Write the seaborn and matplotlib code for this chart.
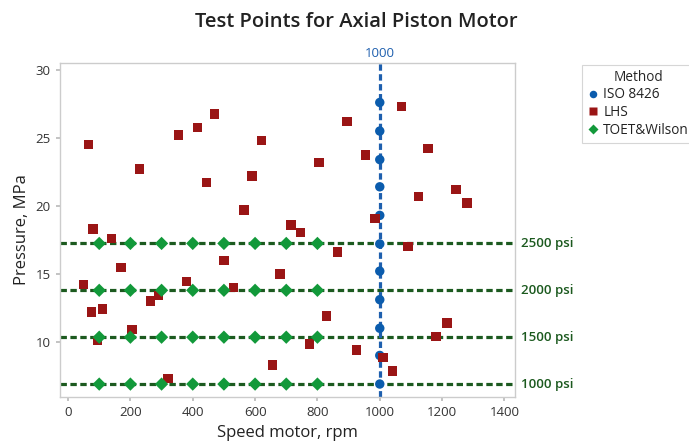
import numpy as np
import pandas as pd
import matplotlib
matplotlib.use("Agg")
import matplotlib.pyplot as plt
import matplotlib.transforms as mtransforms
import seaborn as sns

# ISO 8426 test points: fixed speed, pressure steps
iso_speed = [1000] * 11
iso_pressure = [6.9, 9.0, 11.0, 13.1, 15.2, 17.2, 19.3, 21.4, 23.4, 25.5, 27.6]

# Latin hypercube sampling points
lhs_speed = [65, 230, 355, 415, 470, 445, 620, 895, 590, 805, 955, 565, 715, 745, 985,
             1070, 1155, 1245, 1125, 1280, 80, 140, 170, 50, 75, 110, 95, 205, 265, 290,
             320, 380, 500, 530, 680, 865, 830, 775, 925, 655, 1010, 1040, 1090, 1215, 1180]
lhs_pressure = [24.5, 22.7, 25.2, 25.75, 26.75, 21.7, 24.8, 26.2, 22.2, 23.2, 23.75, 19.7, 18.6,
                18.05, 19.05, 27.3, 24.2, 21.2, 20.7, 20.2, 18.3, 17.6, 15.45, 14.2, 12.2, 12.4,
                10.1, 10.9, 13.0, 13.4, 7.3, 14.45, 16.0, 14.0, 15.0, 16.6, 11.9, 9.85, 9.4,
                8.3, 8.85, 7.85, 17.0, 11.4, 10.4]

# TOET & Wilson grid: speeds x pressure levels
toet_speeds = [100, 200, 300, 400, 500, 600, 700, 800]
psi_levels = [1000, 1500, 2000, 2500]
psi_labels = ["1000 psi", "1500 psi", "2000 psi", "2500 psi"]
psi_mpa = [p * 0.00689476 for p in psi_levels]
toet_speed = [s for p in psi_mpa for s in toet_speeds]
toet_pressure = [p for p in psi_mpa for s in toet_speeds]

methods = ["ISO 8426", "LHS", "TOET&Wilson"]
df = pd.DataFrame({
    "Speed": iso_speed + lhs_speed + toet_speed,
    "Pressure": iso_pressure + lhs_pressure + toet_pressure,
    "Method": [methods[0]] * len(iso_speed) + [methods[1]] * len(lhs_speed)
              + [methods[2]] * len(toet_speed),
})

sns.set_theme(style="white")
plt.rcParams["font.family"] = ["Open Sans", "DejaVu Sans"]

palette = {"ISO 8426": "#0b5cad", "LHS": "#9a1515", "TOET&Wilson": "#12993a"}
markers = {"ISO 8426": "o", "LHS": "s", "TOET&Wilson": "D"}
line_green = "#1c5a1f"
line_blue = "#1e5fae"
dash = (0, (2.0, 1.1))

fig = plt.figure(figsize=(6.89, 4.47), dpi=100)
ax = fig.add_axes([0.087, 0.112, 0.661, 0.747])

# reference lines
ytrans = mtransforms.blended_transform_factory(ax.transAxes, ax.transData)
for y, lab in zip(psi_mpa, psi_labels):
    ax.axhline(y, color=line_green, lw=2.3, ls=dash, zorder=1)
    ax.text(1.012, y, lab, transform=ytrans, color=line_green, fontsize=9.5,
            fontweight="semibold", va="center", ha="left")
ax.axvline(1000, color=line_blue, lw=2.3, ls=dash, zorder=1)
ax.text(1000, 1.01, "1000", transform=mtransforms.blended_transform_factory(ax.transData, ax.transAxes),
        color=line_blue, fontsize=9.5, ha="center", va="bottom")

sns.scatterplot(data=df, x="Speed", y="Pressure", hue="Method", style="Method",
                hue_order=methods, style_order=methods, palette=palette, markers=markers,
                s=46, edgecolor="none", ax=ax, zorder=3)

ax.set_xlim(-26, 1435)
ax.set_ylim(5.95, 30.5)
ax.set_xticks(np.arange(0, 1401, 200))
ax.set_yticks([10, 15, 20, 25, 30])
ax.tick_params(axis="both", labelsize=9.5, colors="#333333", length=3, direction="out",
               left=True, bottom=True, color="#bbbbbb")
for sp in ax.spines.values():
    sp.set_color("#cccccc")
    sp.set_linewidth(1.0)

ax.set_xlabel("Speed motor, rpm", fontsize=12, color="#222222")
ax.set_ylabel("Pressure, MPa", fontsize=12, color="#222222")
fig.text(0.517, 0.951, "Test Points for Axial Piston Motor", ha="center", va="center",
         fontsize=14.5, fontweight="semibold", color="#222222")

leg = ax.legend(title="Method", loc="upper left", bbox_to_anchor=(0.845, 0.855),
                bbox_transform=fig.transFigure, frameon=True, fontsize=9.8,
                title_fontsize=9.8, borderpad=0.35, handlelength=0.9,
                handletextpad=0.3, labelspacing=0.2, markerscale=0.8, fancybox=False,
                borderaxespad=0)
leg.get_frame().set_edgecolor("#cccccc")
leg.get_frame().set_linewidth(0.8)
for t in leg.get_texts():
    t.set_color("#222222")

fig.savefig("out.png", dpi=100)
